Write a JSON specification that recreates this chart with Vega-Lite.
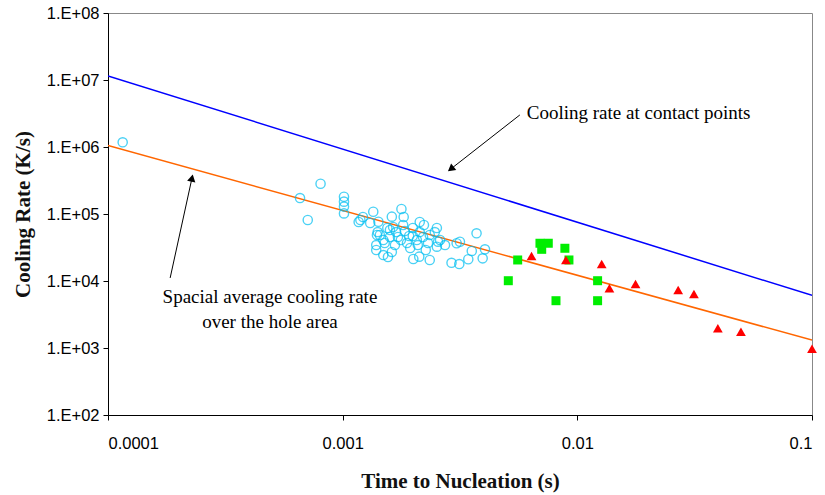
{
  "$schema": "https://vega.github.io/schema/vega-lite/v6.json",
  "width": 704,
  "height": 402,
  "autosize": "none",
  "padding": {"left": 108, "top": 13, "right": 13, "bottom": 80},
  "background": "white",
  "config": {
    "view": {"stroke": "#888888", "strokeWidth": 1},
    "axis": {"grid": false, "domainColor": "#000000", "tickColor": "#000000", "labelColor": "#000000", "labelFont": "Liberation Sans", "labelFontSize": 16.5, "titleFont": "Liberation Serif", "titleFontWeight": "bold", "titleFontSize": 21, "titleColor": "#111111", "tickSize": 5}
  },
  "datasets": {
    "lines": [
      {"series": "contact", "t": 0.0001, "rate": 11500000},
      {"series": "contact", "t": 0.1, "rate": 6100},
      {"series": "average", "t": 0.0001, "rate": 1050000},
      {"series": "average", "t": 0.1, "rate": 1310}
    ],
    "cyan": [
      {"t": 0.0001155, "rate": 1175000},
      {"t": 0.000658, "rate": 173000},
      {"t": 0.000805, "rate": 283000},
      {"t": 0.00071, "rate": 81300},
      {"t": 0.001013, "rate": 181000},
      {"t": 0.001013, "rate": 153000},
      {"t": 0.001013, "rate": 129000},
      {"t": 0.001013, "rate": 102000},
      {"t": 0.00119, "rate": 81300},
      {"t": 0.00122, "rate": 90200},
      {"t": 0.00117, "rate": 76000},
      {"t": 0.00131, "rate": 73400},
      {"t": 0.00135, "rate": 108000},
      {"t": 0.00142, "rate": 76700},
      {"t": 0.0014, "rate": 48600},
      {"t": 0.00141, "rate": 53800},
      {"t": 0.00139, "rate": 34400},
      {"t": 0.00139, "rate": 29000},
      {"t": 0.00149, "rate": 24400},
      {"t": 0.00162, "rate": 27100},
      {"t": 0.00156, "rate": 22800},
      {"t": 0.00162, "rate": 91200},
      {"t": 0.00178, "rate": 119000},
      {"t": 0.00159, "rate": 57700},
      {"t": 0.00159, "rate": 45400},
      {"t": 0.00164, "rate": 64000},
      {"t": 0.00172, "rate": 45400},
      {"t": 0.00181, "rate": 68500},
      {"t": 0.00184, "rate": 55700},
      {"t": 0.00188, "rate": 36900},
      {"t": 0.00199, "rate": 61800},
      {"t": 0.00199, "rate": 47000},
      {"t": 0.00207, "rate": 40900},
      {"t": 0.00213, "rate": 53800},
      {"t": 0.00222, "rate": 68500},
      {"t": 0.0022, "rate": 45400},
      {"t": 0.00235, "rate": 48600},
      {"t": 0.00231, "rate": 36900},
      {"t": 0.00247, "rate": 53800},
      {"t": 0.00252, "rate": 61800},
      {"t": 0.0026, "rate": 40900},
      {"t": 0.00151, "rate": 36900},
      {"t": 0.00149, "rate": 40900},
      {"t": 0.00167, "rate": 34400},
      {"t": 0.00177, "rate": 40900},
      {"t": 0.00194, "rate": 31100},
      {"t": 0.00209, "rate": 34400},
      {"t": 0.00144, "rate": 48600},
      {"t": 0.00255, "rate": 38600},
      {"t": 0.00252, "rate": 32500},
      {"t": 0.00273, "rate": 34400},
      {"t": 0.00306, "rate": 36600},
      {"t": 0.00316, "rate": 38600},
      {"t": 0.00372, "rate": 51500},
      {"t": 0.00404, "rate": 29700},
      {"t": 0.00355, "rate": 28100},
      {"t": 0.00343, "rate": 21100},
      {"t": 0.00395, "rate": 21800},
      {"t": 0.00291, "rate": 18700},
      {"t": 0.00314, "rate": 17900},
      {"t": 0.00235, "rate": 20600},
      {"t": 0.002, "rate": 21300},
      {"t": 0.00212, "rate": 23100},
      {"t": 0.00155, "rate": 61800},
      {"t": 0.00169, "rate": 53800},
      {"t": 0.00192, "rate": 47000},
      {"t": 0.00226, "rate": 29000},
      {"t": 0.00213, "rate": 76000},
      {"t": 0.00182, "rate": 90200}
    ],
    "green": [
      {"t": 0.00693, "rate": 36600},
      {"t": 0.00752, "rate": 36600},
      {"t": 0.00705, "rate": 29700},
      {"t": 0.00885, "rate": 30800},
      {"t": 0.00557, "rate": 20600},
      {"t": 0.00921, "rate": 20600},
      {"t": 0.00508, "rate": 10100},
      {"t": 0.0122, "rate": 10100},
      {"t": 0.00811, "rate": 5080},
      {"t": 0.0122, "rate": 5080}
    ],
    "red": [
      {"t": 0.00638, "rate": 23600},
      {"t": 0.00894, "rate": 20600},
      {"t": 0.0127, "rate": 17900},
      {"t": 0.0137, "rate": 7780},
      {"t": 0.0177, "rate": 9020},
      {"t": 0.0269, "rate": 7350},
      {"t": 0.0314, "rate": 6400},
      {"t": 0.0397, "rate": 1970},
      {"t": 0.0498, "rate": 1750},
      {"t": 0.1, "rate": 977}
    ],
    "arrows": [
      {"t": 0.00569, "rate": 3010000, "t2": 0.00289, "rate2": 470000},
      {"t": 0.000184, "rate": 11100, "t2": 0.000228, "rate2": 344000}
    ],
    "heads": [
      {"t": 0.00289, "rate": 470000, "angle": 232},
      {"t": 0.000228, "rate": 344000, "angle": 12}
    ],
    "notesLeft": [
      {"label": "Cooling rate at contact points", "t": 0.00609, "rate": 3220000}
    ],
    "notesCenter": [
      {"label": "Spacial average cooling rate", "t": 0.00049, "rate": 5770},
      {"label": "over the hole area", "t": 0.00049, "rate": 2440}
    ]
  },
  "layer": [
    {
      "data": {"name": "lines"},
      "mark": {"type": "line", "strokeWidth": 1.5, "clip": true},
      "encoding": {
        "x": {"field": "t", "type": "quantitative", "scale": {"type": "log", "domain": [0.0001, 0.1], "nice": false},
          "axis": {"title": "Time to Nucleation (s)", "values": [0.0001, 0.001, 0.01, 0.1], "format": ".4~f", "labelPadding": 15, "titlePadding": 19, "domainColor": "#000000"}},
        "y": {"field": "rate", "type": "quantitative", "scale": {"type": "log", "domain": [100, 100000000], "nice": false},
          "axis": {"title": "Cooling Rate (K/s)", "values": [100, 1000, 10000, 100000, 1000000, 10000000, 100000000], "labelExpr": "'1.E+0' + round(log(datum.value)/LN10)", "labelPadding": 4, "titlePadding": 13}},
        "color": {"field": "series", "type": "nominal", "scale": {"domain": ["contact", "average"], "range": ["#0000FF", "#FF6600"]}, "legend": null}
      }
    },
    {
      "data": {"name": "cyan"},
      "mark": {"type": "point", "shape": "circle", "filled": false, "stroke": "#00BFF2", "strokeWidth": 1.4, "size": 85, "clip": false},
      "encoding": {"x": {"field": "t", "type": "quantitative"}, "y": {"field": "rate", "type": "quantitative"}}
    },
    {
      "data": {"name": "green"},
      "mark": {"type": "point", "shape": "square", "filled": true, "fill": "#00EE00", "opacity": 1, "size": 81, "clip": false},
      "encoding": {"x": {"field": "t", "type": "quantitative"}, "y": {"field": "rate", "type": "quantitative"}}
    },
    {
      "data": {"name": "red"},
      "mark": {"type": "point", "shape": "triangle-up", "filled": true, "fill": "#FF0000", "opacity": 1, "size": 95, "clip": false},
      "encoding": {"x": {"field": "t", "type": "quantitative"}, "y": {"field": "rate", "type": "quantitative"}}
    },
    {
      "data": {"name": "arrows"},
      "mark": {"type": "rule", "color": "#000000", "strokeWidth": 1},
      "encoding": {"x": {"field": "t", "type": "quantitative"}, "y": {"field": "rate", "type": "quantitative"}, "x2": {"field": "t2"}, "y2": {"field": "rate2"}}
    },
    {
      "data": {"name": "heads"},
      "mark": {"type": "point", "shape": "triangle-up", "filled": true, "fill": "#000000", "opacity": 1, "size": 70},
      "encoding": {"x": {"field": "t", "type": "quantitative"}, "y": {"field": "rate", "type": "quantitative"}, "angle": {"field": "angle", "type": "quantitative", "scale": null}}
    },
    {
      "data": {"name": "notesLeft"},
      "mark": {"type": "text", "align": "left", "baseline": "middle", "font": "Liberation Serif", "fontSize": 19, "color": "#000000"},
      "encoding": {"x": {"field": "t", "type": "quantitative"}, "y": {"field": "rate", "type": "quantitative"}, "text": {"field": "label"}}
    },
    {
      "data": {"name": "notesCenter"},
      "mark": {"type": "text", "align": "center", "baseline": "middle", "font": "Liberation Serif", "fontSize": 19, "color": "#000000"},
      "encoding": {"x": {"field": "t", "type": "quantitative"}, "y": {"field": "rate", "type": "quantitative"}, "text": {"field": "label"}}
    }
  ]
}
